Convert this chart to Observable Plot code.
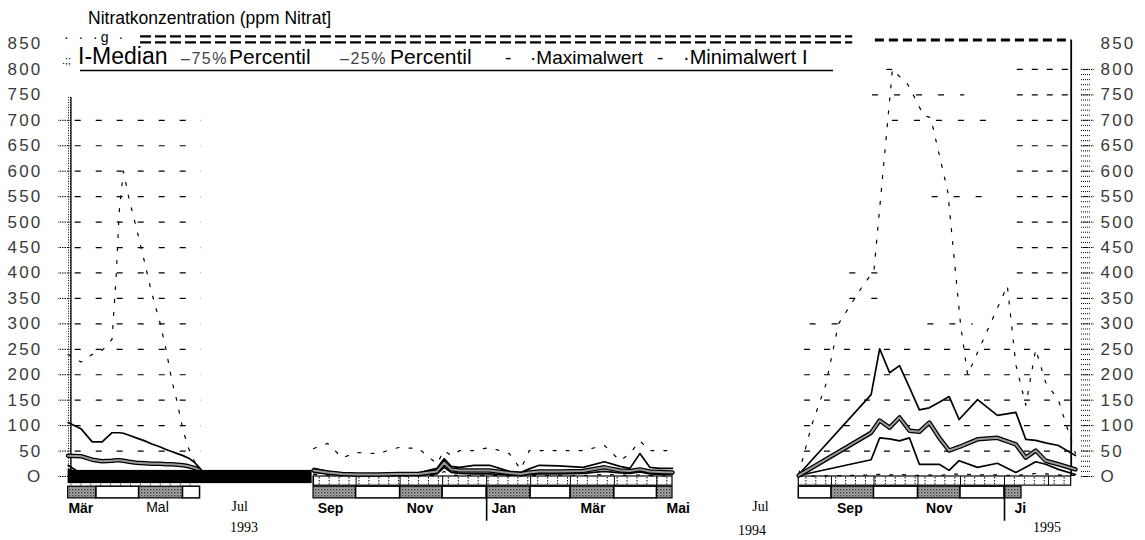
<!DOCTYPE html>
<html><head><meta charset="utf-8">
<script src="https://cdn.jsdelivr.net/npm/d3@7"></script>
<script src="https://cdn.jsdelivr.net/npm/@observablehq/plot@0.6"></script>
<style>body{margin:0;background:#fff}#chart{position:relative;width:1145px;height:540px;overflow:hidden}</style>
</head><body><div id="chart"></div>
<script>
// ---------- DATA ----------
const titleText = "Nitratkonzentration (ppm Nitrat]";
const legendParts = ["I-Median", "\u201375%", "Percentil", "\u201325%", "Percentil", "-", "\u00b7Maximalwert", "-", "\u00b7Minimalwert I"];

// Panel 1 (Mär–Jun 1993)
const dates1 = ["1993-03-12","1993-03-21","1993-03-29","1993-04-05","1993-04-12","1993-04-15","1993-04-17","1993-04-20","1993-04-24","1993-04-29","1993-05-05","1993-05-10","1993-05-16","1993-05-20","1993-05-24","1993-05-28","1993-06-01","1993-06-05","1993-06-09","1993-06-13"];
const max1  = [240,225,240,248,270,400,520,600,545,490,420,360,300,250,190,145,90,55,30,12];
const p75_1 = [106,94,68,68,86,86,86,85,81,76,70,64,58,53,49,45,41,36,28,16];
const med1  = [41,40,33,30,31,32,32,31,29,27,26,25,25,24,24,23,22,20,17,12];
const p25_1 = [22,6,5,5,6,6,6,7,7,8,8,9,9,10,10,10,10,9,8,6];
const min1  = [15,3,2,2,2,2,3,3,3,3,4,4,4,4,5,5,5,4,4,3];

// Panel 2 (Sep 1993 – Mai 1994)
const dates2 = ["1993-09-01","1993-09-11","1993-09-21","1993-10-02","1993-10-16","1993-10-31","1993-11-14","1993-11-27","1993-12-02","1993-12-07","1993-12-13","1993-12-23","1994-01-03","1994-01-17","1994-01-25","1994-01-31","1994-02-07","1994-02-21","1994-03-10","1994-03-25","1994-04-05","1994-04-12","1994-04-19","1994-04-26","1994-05-03","1994-05-12"];
const max2  = [55,65,37,47,45,57,55,25,51,41,51,51,57,45,14,51,51,51,51,61,31,45,70,51,51,51];
const p75_2 = [16,10,6,5,5,6,7,16,35,20,18,22,22,10,8,15,22,21,18,29,20,16,45,18,16,16];
const med2  = [12,8,5,4,4,5,5,10,27,14,12,12,12,7,5,8,10,10,11,18,12,11,14,10,9,8];
const p25_2 = [8,5,3,2,2,2,3,5,18,8,6,5,5,3,2,4,5,5,6,10,7,6,9,5,4,4];
const min2  = [4,2,1,1,1,1,1,2,10,3,2,2,2,1,1,1,2,2,2,4,3,2,3,2,1,1];

// Panel 3 (Aug 1994 – Feb 1995)
const dates3 = ["1994-08-09","1994-09-29","1994-10-05","1994-10-12","1994-10-19","1994-10-26","1994-11-02","1994-11-09","1994-11-16","1994-11-23","1994-11-30","1994-12-13","1994-12-27","1995-01-09","1995-01-16","1995-01-23","1995-01-30","1995-02-08","1995-02-20"];
const p75_3 = [4,161,251,204,218,175,131,135,146,157,112,151,120,126,73,71,66,61,41];
const med3  = [2,86,110,96,116,90,88,106,76,51,58,73,76,63,37,51,31,24,14];
const p25_3 = [2,33,76,74,70,76,24,24,24,12,31,18,26,8,18,29,24,14,4];
const min3  = [0,3,4,3,4,3,2,3,2,4,5,3,3,2,4,6,5,3,2];
const maxDates3 = ["1994-08-09","1994-08-18","1994-08-28","1994-09-06","1994-09-22","1994-10-01","1994-10-14","1994-10-25","1994-11-05","1994-11-10","1994-11-22","1994-12-01","1994-12-06","1995-01-03","1995-01-09","1995-01-16","1995-01-23","1995-01-30","1995-02-08","1995-02-20"];
const max3  = [5,100,180,300,370,405,800,770,710,705,560,300,200,375,220,140,250,185,150,45];

// panels (time ranges)
const panelStart = ["1993-03-12","1993-09-01","1994-08-09"];
const panelEnd   = ["1993-06-13","1994-05-12","1995-01-13"];
const stripEnd   = ["1993-06-13","1994-05-12","1995-02-17"];

// axis / tick labels
const yTicks = d3.range(0, 851, 50);
const monthLabels     = ["Mär","Mal","Jul","Sep","Nov","Jan","Mär","Mai","Jul","Sep","Nov","Ji"];
const monthLabelDates = ["1993-03-21","1993-05-14","1993-07-11","1993-09-13","1993-11-15","1994-01-13","1994-03-17","1994-05-16","1994-07-13","1994-09-14","1994-11-16","1995-01-08"];
const monthLabelStyle = ["b","r","s","b","b","b","b","b","s","b","b","b"];
const yearLabels = ["1993","1994","1995"];
const yearLabelDates = ["1993-07-14","1994-07-07","1995-01-31"];
const yearLines = ["1994-01-01","1995-01-01"];

// gridline segments
const grid1 = d3.range(0, 701, 50);
const gridLow3 = d3.range(0, 251, 50);
const gridHigh3 = d3.range(300, 801, 50);
const fragValues = [300,300,400,350,750,700,550,800];
const fragStart  = ["1994-08-17","1994-11-08","1994-09-14","1994-09-14","1994-09-30","1994-10-14","1994-11-11","1994-10-10"];
const fragEnd    = ["1994-09-16","1994-12-10","1994-10-14","1994-10-05","1994-12-04","1994-12-27","1994-12-27","1994-10-22"];

// ---------- BUILD ----------
const D = s => new Date(s);
const rows = (ds, vs, panel) => ds.map((d, i) => ({date: D(d), v: vs[i], panel}));
const median = [...rows(dates1, med1, 1), ...rows(dates2, med2, 2), ...rows(dates3, med3, 3)];
const p75 = [...rows(dates1, p75_1, 1), ...rows(dates2, p75_2, 2), ...rows(dates3, p75_3, 3)];
const p25 = [...rows(dates1, p25_1, 1), ...rows(dates2, p25_2, 2), ...rows(dates3, p25_3, 3)];
const mins = [...rows(dates1, min1, 1), ...rows(dates2, min2, 2), ...rows(dates3, min3, 3)];
const maxs = [...rows(dates1, max1, 1), ...rows(dates2, max2, 2), ...rows(maxDates3, max3, 3)];

const monthBars = [];
panelStart.forEach((s, p) => {
  const a = D(s), b = D(panelEnd[p]);
  let m = d3.utcMonth.floor(a);
  while (m < b) {
    const n = d3.utcMonth.offset(m, 1);
    monthBars.push({a: m < a ? a : m, b: n > b ? b : n, shaded: m.getUTCMonth() % 2 === 0});
    m = n;
  }
});
const strips = [1, 2].map(p => ({a: D(panelStart[p]), b: D(stripEnd[p])}));
const weekTicks = [];
const monthTicks = [];
panelStart.forEach((s, p) => {
  d3.utcWeek.range(D(s), D(stripEnd[p])).forEach(d => weekTicks.push({d, p}));
  d3.utcMonth.range(D(s), D(stripEnd[p])).forEach(d => monthTicks.push({d, p}));
});
const frags = fragValues.map((v, i) => ({v, a: D(fragStart[i]), b: D(fragEnd[i])}));
const mLabels = monthLabels.map((t, i) => ({t, d: D(monthLabelDates[i]), s: monthLabelStyle[i]}));
const yLabels = yearLabels.map((t, i) => ({t, d: D(yearLabelDates[i])}));
const zeroO = d => d === 0 ? "O" : String(d);

const chart = Plot.plot({
  width: 1145, height: 540,
  marginLeft: 71, marginRight: 65, marginTop: 43, marginBottom: 64,
  x: {type: "utc", domain: [D("1993-03-01"), D("1995-01-01")], range: [52, 1004], axis: null},
  y: {domain: [0, 850], range: [476, 43.5], axis: null},
  style: {fontFamily: "Liberation Sans", fontSize: "17px", background: "white", color: "black"},
  marks: [
    // grid
    Plot.ruleY(grid1, {x1: () => D("1993-03-17"), x2: () => D("1993-06-14"), y: d => d, strokeDasharray: "6,15", strokeWidth: 1.2}),
    Plot.ruleY(gridLow3, {x1: () => D("1994-08-13"), x2: () => D("1995-02-17"), y: d => d, strokeDasharray: "6,14", strokeWidth: 1.2}),
    Plot.ruleY(gridHigh3, {x1: () => D("1995-01-10"), x2: () => D("1995-02-17"), y: d => d, strokeDasharray: "6,9", strokeWidth: 1.2}),
    Plot.ruleY(frags, {x1: "a", x2: "b", y: "v", strokeDasharray: "6,16", strokeWidth: 1.2}),
    // top frame dashes
    Plot.ruleY([865, 853], {x1: () => D("1993-05-02"), x2: () => D("1994-09-16"), y: d => d, strokeDasharray: "11,4", strokeWidth: 2.2}),
    Plot.ruleY([858], {x1: () => D("1994-10-02"), x2: () => D("1995-02-17"), y: d => d, strokeDasharray: "9,5", strokeWidth: 3}),
    // axes lines
    Plot.ruleX([D("1993-03-14")], {x: d => d, y1: 0, y2: 745, strokeWidth: 1.3}),
    Plot.ruleX([D("1995-02-17")], {x: d => d, y1: 0, y2: 858, strokeWidth: 1.8}),
    Plot.axisY(d3.range(0, 746, 5), {anchor: "left", label: null, tickSize: 4, tickFormat: () => "", strokeDasharray: "1,1"}),
    Plot.axisY(yTicks.filter(d => d <= 700), {anchor: "left", label: null, tickSize: 13, tickFormat: () => "", strokeDasharray: "1.5,1"}),
    Plot.axisY(yTicks, {anchor: "left", label: null, tickSize: 0, tickPadding: 29, tickFormat: zeroO, fill: "#3a3a3a"}),
    Plot.axisY(d3.range(0, 801, 10), {anchor: "right", label: null, tickSize: 9, tickFormat: () => "", strokeDasharray: "1,1"}),
    Plot.axisY(yTicks.filter(d => d <= 800), {anchor: "right", label: null, tickSize: 13, tickFormat: () => "", strokeDasharray: "1.5,1"}),
    Plot.axisY(yTicks, {anchor: "right", label: null, tickSize: 0, tickPadding: 20, tickFormat: zeroO, fill: "#3a3a3a"}),
    // tick strip
    Plot.rect(strips, {x1: "a", x2: "b", y1: 0, y2: -18, fill: "white", stroke: "black", strokeWidth: 1.2}),
    Plot.ruleX(weekTicks.filter(d => d.p > 0), {x: "d", y1: -2, y2: -16, strokeDasharray: "1.5,1.5"}),
    Plot.ruleX(monthTicks.filter(d => d.p > 0), {x: "d", y1: 0, y2: -18, strokeWidth: 1}),
    Plot.ruleX(weekTicks.filter(d => d.p === 0), {x: "d", y1: -15, y2: -20, strokeDasharray: "1,1"}),
    // month bars
    Plot.rect(monthBars.filter(d => d.shaded), {x1: "a", x2: "b", y1: -20, y2: -43, fill: "url(#stip)", stroke: "black", strokeWidth: 1.2}),
    Plot.rect(monthBars.filter(d => !d.shaded), {x1: "a", x2: "b", y1: -20, y2: -43, fill: "white", stroke: "black", strokeWidth: 1.5}),
    Plot.ruleX(yearLines, {x: d => D(d), y1: -20, y2: -88, strokeWidth: 1.6}),
    // series
    Plot.line(maxs, {x: "date", y: "v", z: "panel", stroke: "black", strokeWidth: 1.2, strokeDasharray: "3,10"}),
    Plot.line(mins, {x: "date", y: "v", z: "panel", stroke: "black", strokeWidth: 1.2, strokeDasharray: "3,10"}),
    Plot.line(p25, {x: "date", y: "v", z: "panel", stroke: "black", strokeWidth: 1.7}),
    Plot.line(p75, {x: "date", y: "v", z: "panel", stroke: "black", strokeWidth: 1.7}),
    Plot.line(median, {x: "date", y: "v", z: "panel", stroke: "black", strokeWidth: 4.5}),
    Plot.line(median, {x: "date", y: "v", z: "panel", stroke: "#9a9a9a", strokeWidth: 2}),
    // black base bar
    Plot.rect([0], {x1: () => D("1993-03-12"), x2: () => D("1993-08-31"), y1: -14, y2: 12, fill: "black"}),
    // labels
    Plot.text(mLabels.filter(d => d.s === "b" && d.t !== "Ji"), {x: "d", y: -62, text: "t", fontSize: 14, fontWeight: "bold", fontFamily: "Liberation Sans"}),
    Plot.text(mLabels.filter(d => d.t === "Ji"), {x: "d", y: -62, text: "t", fontSize: 14, fontWeight: "bold", fontFamily: "Liberation Sans", textAnchor: "start"}),
    Plot.text(mLabels.filter(d => d.s === "r"), {x: "d", y: -60, text: "t", fontSize: 14, fontFamily: "Liberation Sans"}),
    Plot.text(mLabels.filter(d => d.s === "s"), {x: "d", y: -59, text: "t", fontSize: 14, fontFamily: "Liberation Serif"}),
    Plot.text(yLabels, {x: "d", y: (d, i) => i === 1 ? -107 : -100, text: "t", fontSize: 14, fontFamily: "Liberation Serif"})
  ]
});
document.getElementById("chart").append(chart);

const svg = d3.select(chart);
svg.insert("defs", ":first-child").html(
  '<pattern id="stip" width="3" height="3" patternUnits="userSpaceOnUse">' +
  '<rect width="3" height="3" fill="#a8a8a8"/><rect x="0" y="0" width="1.3" height="1.3" fill="#333"/>' +
  '<rect x="1.5" y="1.5" width="1" height="1" fill="#555"/></pattern>');
svg.selectAll('g[aria-label="y-axis tick label"] text').attr("letter-spacing", "2.2px");

// title & legend (start-anchored)
const extra = svg.append("g").attr("text-anchor", "start").attr("font-family", "Liberation Sans");
extra.append("text").attr("x", 88).attr("y", 24).attr("font-size", 17.5).text(titleText);
extra.append("text").attr("x", 64).attr("y", 42).attr("font-size", 14).attr("letter-spacing", "3px").text("\u00b7 \u00b7 \u00b7g \u00b7");
extra.append("text").attr("x", 62).attr("y", 64).attr("font-size", 11).text(".;;");
const legendX = [78, 181, 229, 340, 390, 505, 530, 657, 683];
const legendStyle = [
  {size: 23}, {size: 16, fill: "#444", ls: 1.5}, {size: 21}, {size: 16, fill: "#444", ls: 1.5}, {size: 21},
  {size: 19}, {size: 19}, {size: 19}, {size: 20}
];
legendParts.forEach((t, i) => {
  const el = extra.append("text").attr("x", legendX[i]).attr("y", 64).attr("font-size", legendStyle[i].size).text(t);
  if (legendStyle[i].fill) el.attr("fill", legendStyle[i].fill);
  if (legendStyle[i].ls) el.attr("letter-spacing", legendStyle[i].ls + "px");
});
extra.append("line").attr("x1", 80).attr("x2", 833).attr("y1", 70.5).attr("y2", 70.5).attr("stroke", "black").attr("stroke-width", 1.6);
</script>
</body></html>
